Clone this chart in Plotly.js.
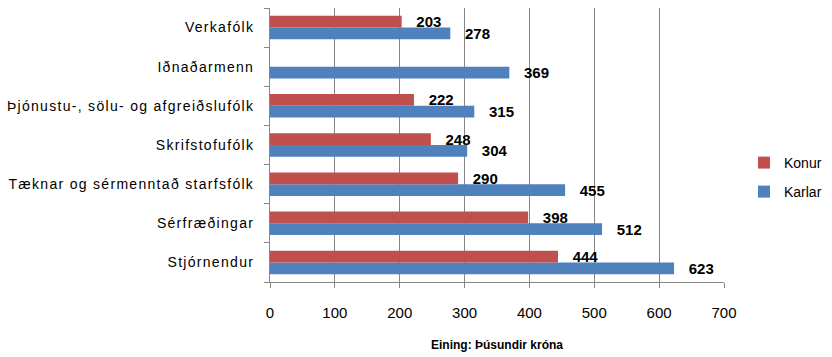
<!DOCTYPE html>
<html><head><meta charset="utf-8">
<script src="https://cdn.plot.ly/plotly-3.0.1.min.js"></script>
<style>body{margin:0;padding:0;background:#fff}#chart{width:832px;height:357px}
#chart .ytick text{letter-spacing:1.3px}</style>
</head><body><div id="chart"></div>
<script>
// categories listed bottom to top
const categories = ["Stjórnendur", "Sérfræðingar", "Tæknar og sérmenntað starfsfólk", "Skrifstofufólk", "Þjónustu-, sölu- og afgreiðslufólk", "Iðnaðarmenn", "Verkafólk"];
const konur = [444, 398, 290, 248, 222, null, 203];
const karlar = [623, 512, 455, 304, 315, 369, 278];
const xTicks = [0, 100, 200, 300, 400, 500, 600, 700];

const labelFont = {family: "Liberation Sans, Arial, sans-serif", size: 15, color: "#000", weight: "bold"};
const traces = [
  {type: "bar", orientation: "h", name: "Karlar", y: categories, x: karlar,
   marker: {color: "#4F81BD"}, text: karlar.map(v => v == null ? "" : "\u2002 " + v), textposition: "outside",
   constraintext: "none", textfont: labelFont, cliponaxis: false, legend: "legend2", hoverinfo: "x"},
  {type: "bar", orientation: "h", name: "Konur", y: categories, x: konur,
   marker: {color: "#C0504D"}, text: konur.map(v => v == null ? "" : "\u2002 " + v), textposition: "outside",
   constraintext: "none", textfont: labelFont, cliponaxis: false, legend: "legend", hoverinfo: "x"}
];
const legendBase = {x: 1.044, xanchor: "left", xref: "paper", yanchor: "middle", font: {size: 14},
    itemwidth: 30, bgcolor: "rgba(0,0,0,0)"};
const layout = {
  width: 832, height: 357,
  margin: {l: 270, r: 108, t: 8, b: 75, autoexpand: false},
  paper_bgcolor: "#fff", plot_bgcolor: "#fff",
  barmode: "group", bargap: 0.4, bargroupgap: 0,
  font: {family: "Liberation Sans, Arial, sans-serif", size: 13, color: "#000"},
  xaxis: {range: [0, 700], tickvals: xTicks, ticktext: xTicks.map(String),
    showgrid: true, gridcolor: "#868686", gridwidth: 1, zeroline: false,
    showline: true, linecolor: "#868686", ticks: "outside", ticklen: 5, tickcolor: "#868686",
    tickfont: {size: 15}, ticklabelstandoff: 12,
    title: {text: "Eining: Þúsundir króna", font: {size: 12, weight: "bold"}, standoff: 20}},
  yaxis: {type: "category", showline: true, linecolor: "#868686", ticks: "outside", ticklen: 5,
    tickcolor: "#868686", tickson: "boundaries", showgrid: false, tickfont: {size: 14}, ticklabelstandoff: 12},
  legend: Object.assign({}, legendBase, {y: (282 - 163) / 274}),
  legend2: Object.assign({}, legendBase, {y: (282 - 192) / 274}),
  showlegend: true
};
Plotly.newPlot("chart", traces, layout, {displayModeBar: false, staticPlot: true});
</script></body></html>
